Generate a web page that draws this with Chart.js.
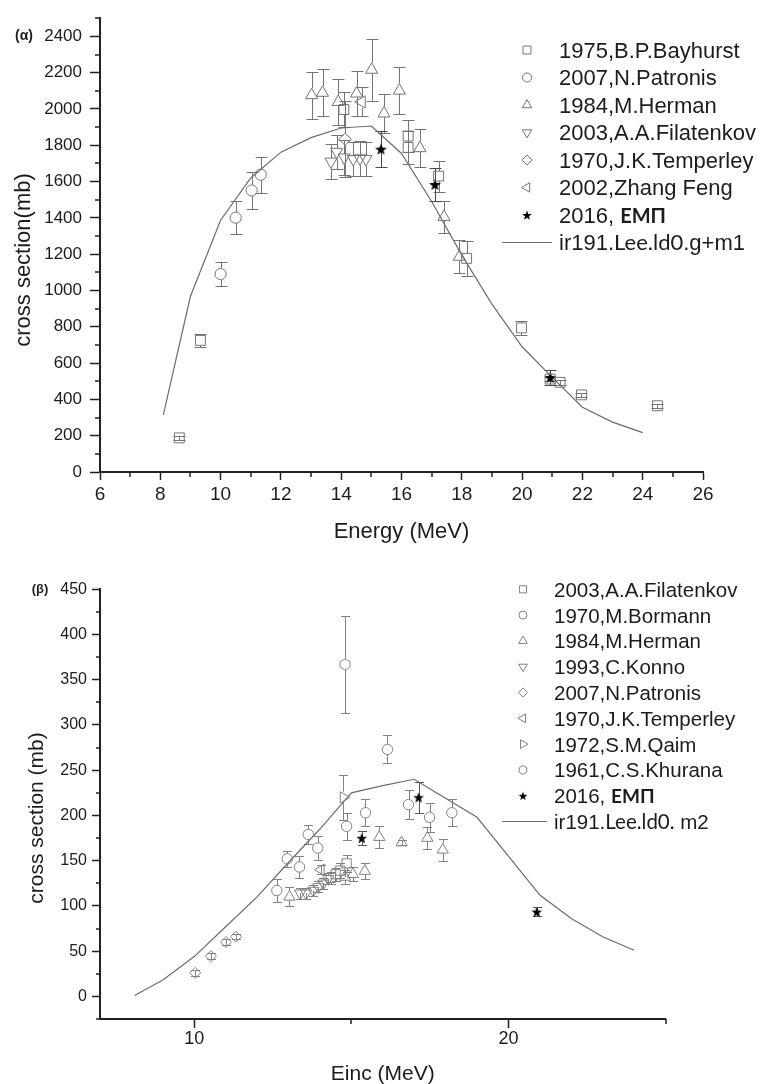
<!DOCTYPE html>
<html>
<head>
<meta charset="utf-8">
<script src="https://cdn.jsdelivr.net/npm/chart.js@4.4.1/dist/chart.umd.min.js"></script>
<style>
  html, body { margin: 0; padding: 0; background: #fff; width: 763px; height: 1084px; overflow: hidden; }
  .panel { position: absolute; left: 0; width: 763px; height: 545px; }
  #wrapA { top: 0; }
  #wrapB { top: 545px; }
</style>
</head>
<body>
<div class="panel" id="wrapA"><canvas id="chartA" width="763" height="545"></canvas></div>
<div class="panel" id="wrapB"><canvas id="chartB" width="763" height="545"></canvas></div>
<script>
// ---------- (α) 191Ir(n,2n) g+m1 cross section ----------
const aBayhurstE   = [8.63, 9.33, 14.09, 16.22, 16.22, 17.23, 18.16, 19.98, 20.93, 21.26, 21.97, 24.49];
const aBayhurstS   = [188, 725, 1997, 1851, 1788, 1630, 1177, 794, 512, 494, 425, 365];
const aBayhurstErr = [12, 37, 95, 90, 90, 85, 95, 40, 12, 15, 12, 12];

const aPatronisE   = [10.0, 10.5, 11.03, 11.33];
const aPatronisS   = [1090, 1401, 1551, 1638];
const aPatronisErr = [68, 90, 100, 100];

const aHermanE     = [13.02, 13.38, 13.9, 14.51, 15.01, 15.42, 15.93, 16.61, 17.41, 17.92];
const aHermanS     = [2076, 2089, 2038, 2085, 2216, 1975, 2101, 1784, 1405, 1186];
const aHermanErr   = [130, 130, 125, 125, 170, 110, 130, 105, 90, 90];

const aFilatenkovE   = [13.66, 13.85, 14.1, 14.4, 14.62, 14.82];
const aFilatenkovS   = [1710, 1764, 1733, 1724, 1728, 1724];
const aFilatenkovErr = [95, 95, 95, 95, 95, 95];

const aTemperleyE   = [14.13];
const aTemperleyS   = [1833];
const aTemperleyErr = [210];

const aZhangE   = [14.68];
const aZhangS   = [2039];
const aZhangErr = [80];

const aEmpE   = [15.32, 17.11, 20.93];
const aEmpS   = [1779, 1584, 521];
const aEmpErr = [100, 90, 40];

const aLeeE = [8.1, 9, 10, 11, 12, 13, 14, 15, 16, 17, 18, 19, 20, 21, 22, 23, 24];
const aLeeS = [315, 968, 1387, 1620, 1762, 1842, 1895, 1906, 1755, 1490, 1195, 925, 690, 521, 357, 275, 217];

const aXTicks = [6, 8, 10, 12, 14, 16, 18, 20, 22, 24, 26];
const aXMinor = [7, 9, 11, 13, 15, 17, 19, 21, 23, 25];
const aYTicks = [0, 200, 400, 600, 800, 1000, 1200, 1400, 1600, 1800, 2000, 2200, 2400];
const aYMinor = [100, 300, 500, 700, 900, 1100, 1300, 1500, 1700, 1900, 2100, 2300, 2500];

// ---------- (β) 191Ir(n,2n) m2 cross section ----------
const bFilatenkovE   = [14.35, 14.5, 14.65, 14.85];
const bFilatenkovS   = [131, 135, 139, 147];
const bFilatenkovErr = [7, 7, 8, 9];

const bBormannE   = [12.63, 12.96, 13.35, 13.63, 13.93, 14.85, 15.45, 16.15, 16.82, 17.49, 18.2];
const bBormannS   = [117, 152, 143, 179, 164, 188, 203, 273, 212, 198, 203];
const bBormannErr = [12.5, 9, 12, 10, 13, 15, 15, 15.5, 16, 16, 15];

const bHermanE   = [13.03, 14.8, 15.05, 15.43, 15.89, 16.6, 17.42, 17.91];
const bHermanS   = [110, 132, 135, 138.5, 176, 170, 175, 162];
const bHermanErr = [10.5, 8, 8, 9, 12, 3, 12, 12];

const bKonnoE   = [13.37, 13.56, 13.79, 13.95, 14.11, 14.27];
const bKonnoS   = [114, 114, 117, 121, 125, 130];
const bKonnoErr = [6, 6, 6, 6, 6, 6];

const bPatronisE   = [10.03, 10.53, 11.01, 11.33];
const bPatronisS   = [26, 44.5, 60, 66];
const bPatronisErr = [3, 3, 3, 3];

const bTemperleyE   = [14.03];
const bTemperleyS   = [140];
const bTemperleyErr = [5];

const bQaimE   = [14.75];
const bQaimS   = [220];
const bQaimErr = [25];

const bKhuranaE   = [14.8];
const bKhuranaS   = [367];
const bKhuranaErr = [54];

const bEmpE   = [15.33, 17.14, 20.9];
const bEmpS   = [175, 220, 93.5];
const bEmpErr = [8, 17, 5];

const bLeeE = [8.1, 9, 10, 11, 12, 13, 14, 15, 16, 17, 18, 19, 20, 21, 22, 23, 24];
const bLeeS = [1, 18, 44, 77, 110, 148, 185, 225, 233, 240, 219, 198, 155, 112, 86, 66, 51];

const bXTicks = [10, 20];
const bXMinor = [15, 25];
const bYTicks = [0, 50, 100, 150, 200, 250, 300, 350, 400, 450];
const bYMinor = [-25, 25, 75, 125, 175, 225, 275, 325, 375, 425];

// ---------- styling ----------
const FONT = "'Liberation Sans', Arial, Helvetica, sans-serif";
const ALT = "Lato, 'Noto Sans', 'Liberation Sans', sans-serif";
const INK = '#1c1c1c';
const AXIS = '#222';
const GREY_A = '#747474';
const GREY_B = '#828282';
const CLEAR = 'rgba(0,0,0,0)';

Chart.defaults.font.family = FONT;

function starCanvas(R, color) {
  const s = Math.ceil(2 * R + 2);
  const c = document.createElement('canvas');
  c.width = c.height = s;
  const g = c.getContext('2d');
  g.fillStyle = color;
  g.beginPath();
  for (let k = 0; k < 10; k++) {
    const ang = -Math.PI / 2 + k * Math.PI / 5;
    const rr = (k % 2) ? R * 0.42 : R;
    g.lineTo(s / 2 + rr * Math.cos(ang), s / 2 + 0.6 + rr * Math.sin(ang));
  }
  g.closePath();
  g.fill();
  return c;
}

function hexCanvas(R, color) {
  const s = Math.ceil(2 * R + 3);
  const c = document.createElement('canvas');
  c.width = c.height = s;
  const g = c.getContext('2d');
  g.strokeStyle = color;
  g.lineWidth = 1;
  g.beginPath();
  for (let k = 0; k < 6; k++) {
    const ang = -Math.PI / 2 + k * Math.PI / 3;
    g.lineTo(s / 2 + R * Math.cos(ang), s / 2 + R * Math.sin(ang));
  }
  g.closePath();
  g.stroke();
  return c;
}

const starA = starCanvas(6.2, '#000');
const starALegend = starCanvas(5, '#000');
const starB = starCanvas(5.6, '#000');
const starBLegend = starCanvas(4.6, '#000');
const hexB = hexCanvas(5.6, GREY_B);
const hexBLegend = hexCanvas(4.4, GREY_B);

function pts(xs, ys) { return xs.map((x, i) => ({ x, y: ys[i] })); }

function markers(label, xs, ys, errs, st) {
  return {
    label,
    data: pts(xs, ys),
    errors: errs,
    errGap: st.gap,
    errorColor: st.errColor || st.color,
    showLine: false,
    pointStyle: st.shape,
    pointRotation: st.rot || 0,
    pointRadius: st.r,
    pointHoverRadius: st.r,
    pointBorderColor: st.color,
    pointBackgroundColor: CLEAR,
    pointBorderWidth: 1,
    legendStyle: st.legendShape || st.shape,
    legendRadius: st.lr,
    legendParts: st.parts
  };
}

function model(label, xs, ys, parts) {
  return {
    label,
    data: pts(xs, ys),
    showLine: true,
    borderColor: '#6c6c6c',
    borderWidth: 1.2,
    pointRadius: 0,
    pointHoverRadius: 0,
    fill: false,
    tension: 0,
    legendParts: parts
  };
}

// ---------- plugins ----------
const errorBars = {
  id: 'errorBars',
  beforeDatasetsDraw(chart, args, o) {
    const { ctx } = chart;
    const xs = chart.scales.x, ys = chart.scales.y;
    ctx.save();
    ctx.lineWidth = 1;
    chart.data.datasets.forEach(ds => {
      if (!ds.errors) return;
      ctx.strokeStyle = ds.errorColor;
      const gUp = ds.errGap[0], gDn = ds.errGap[1];
      ds.data.forEach((p, j) => {
        const e = ds.errors[j];
        if (!e) return;
        const px = Math.round(xs.getPixelForValue(p.x)) + 0.5;
        const pc = ys.getPixelForValue(p.y);
        const pt = Math.round(ys.getPixelForValue(p.y + e)) + 0.5;
        const pb = Math.round(ys.getPixelForValue(p.y - e)) + 0.5;
        ctx.beginPath();
        if (pc - pt > gUp) { ctx.moveTo(px, pt); ctx.lineTo(px, pc - gUp); }
        else { ctx.moveTo(px, pt); ctx.lineTo(px, pc); }
        if (pb - pc > gDn) { ctx.moveTo(px, pc + gDn); ctx.lineTo(px, pb); }
        else { ctx.moveTo(px, pc); ctx.lineTo(px, pb); }
        ctx.moveTo(px - o.cap, pt); ctx.lineTo(px + o.cap, pt);
        ctx.moveTo(px - o.cap, pb); ctx.lineTo(px + o.cap, pb);
        ctx.stroke();
      });
    });
    ctx.restore();
  }
};

const minorTicks = {
  id: 'minorTicks',
  afterDraw(chart, args, o) {
    const { ctx, chartArea: a } = chart;
    const xs = chart.scales.x, ys = chart.scales.y;
    ctx.save();
    ctx.strokeStyle = AXIS;
    ctx.lineWidth = 1.5;
    ctx.beginPath();
    o.x.forEach(v => {
      const p = Math.round(xs.getPixelForValue(v));
      ctx.moveTo(p, a.bottom); ctx.lineTo(p, a.bottom + o.xLen);
    });
    o.y.forEach(v => {
      const p = Math.round(ys.getPixelForValue(v));
      ctx.moveTo(a.left - o.yLen, p); ctx.lineTo(a.left, p);
    });
    ctx.stroke();
    ctx.restore();
  }
};

const panelText = {
  id: 'panelText',
  afterDraw(chart, args, o) {
    const { ctx } = chart;
    // rotated y-axis title
    ctx.save();
    ctx.fillStyle = INK;
    ctx.translate(o.yTitle.x, o.yTitle.y);
    ctx.rotate(-Math.PI / 2);
    ctx.font = o.yTitle.font;
    ctx.textAlign = 'center';
    ctx.textBaseline = 'middle';
    ctx.fillText(o.yTitle.text, 0, 0);
    ctx.restore();

    // panel tag
    ctx.save();
    ctx.fillStyle = INK;
    ctx.font = o.tag.font;
    ctx.textAlign = 'center';
    ctx.textBaseline = 'middle';
    ctx.fillText(o.tag.text, o.tag.x, o.tag.y);
    ctx.restore();

    // legend
    const L = o.legend;
    chart.data.datasets.forEach((ds, i) => {
      const y = L.y0 + i * L.dy;
      ctx.save();
      if (ds.showLine) {
        ctx.strokeStyle = ds.borderColor;
        ctx.lineWidth = ds.borderWidth;
        ctx.beginPath();
        ctx.moveTo(L.lineX0, y); ctx.lineTo(L.lineX1, y);
        ctx.stroke();
      } else {
        ctx.strokeStyle = ds.pointBorderColor;
        ctx.fillStyle = CLEAR;
        ctx.lineWidth = 1;
        Chart.helpers.drawPoint(ctx, {
          pointStyle: ds.legendStyle,
          rotation: ds.pointRotation || 0,
          radius: ds.legendRadius,
          borderWidth: 1
        }, L.markX, y);
      }
      ctx.restore();
      ctx.save();
      ctx.fillStyle = INK;
      ctx.textAlign = 'left';
      ctx.textBaseline = 'alphabetic';
      let x = L.textX;
      const parts = ds.legendParts || [[ds.label, 'n']];
      parts.forEach(([t, f]) => {
        ctx.font = L.fonts[f];
        ctx.fillText(t, x, y + L.capShift);
        x += ctx.measureText(t).width;
      });
      ctx.restore();
    });
  }
};

function axes(cfg) {
  return {
    x: {
      type: 'linear', min: cfg.xMin, max: cfg.xMax,
      afterBuildTicks: s => { s.ticks = cfg.xTicks.map(v => ({ value: v })); },
      afterFit: s => { s.height = cfg.xHeight; },
      grid: { drawOnChartArea: false, drawTicks: true, tickLength: cfg.xTickLen, tickColor: AXIS, tickWidth: 1.5 },
      border: { display: true, color: AXIS, width: 2 },
      ticks: { font: { family: FONT, size: cfg.xFont }, color: INK, padding: cfg.xPad, maxRotation: 0, autoSkip: false, callback: v => String(v) },
      title: { display: true, text: cfg.xTitle, color: INK, font: { family: FONT, size: cfg.xTitleFont }, padding: { top: 0, bottom: cfg.xTitlePad } }
    },
    y: {
      type: 'linear', min: cfg.yMin, max: cfg.yMax,
      afterBuildTicks: s => { s.ticks = cfg.yTicks.map(v => ({ value: v })); },
      afterFit: s => { s.width = 100; },
      grid: { drawOnChartArea: false, drawTicks: true, tickLength: cfg.yTickLen, tickColor: AXIS, tickWidth: 1.5 },
      border: { display: true, color: AXIS, width: 2 },
      ticks: { font: { family: FONT, size: cfg.yFont }, color: INK, padding: cfg.yPad, autoSkip: false, callback: v => String(v) }
    }
  };
}

// ---------- chart (α) ----------
const styleA = {
  square:   { shape: 'rect', r: 7, lr: 5.6, gap: [5, 5], color: GREY_A },
  circle:   { shape: 'circle', r: 5.6, lr: 4.5, gap: [5.6, 5.6], color: GREY_A },
  triUp:    { shape: 'triangle', r: 7, lr: 5.4, gap: [7, 3.5], color: GREY_A },
  triDown:  { shape: 'triangle', rot: 180, r: 7, lr: 5.4, gap: [3.5, 7], color: GREY_A },
  diamond:  { shape: 'rectRot', r: 6.2, lr: 5, gap: [6.2, 6.2], color: GREY_A },
  triLeft:  { shape: 'triangle', rot: 270, r: 7, lr: 5.4, gap: [6, 6], color: GREY_A },
  star:     { shape: starA, legendShape: starALegend, r: 6, lr: 5, gap: [0, 0], color: '#000', errColor: '#4a4a4a',
              parts: [['2016, ', 'n'], ['ΕΜΠ', 'b']] }
};

new Chart(document.getElementById('chartA'), {
  type: 'scatter',
  data: {
    datasets: [
      markers('1975,B.P.Bayhurst', aBayhurstE, aBayhurstS, aBayhurstErr, styleA.square),
      markers('2007,N.Patronis', aPatronisE, aPatronisS, aPatronisErr, styleA.circle),
      markers('1984,M.Herman', aHermanE, aHermanS, aHermanErr, styleA.triUp),
      markers('2003,A.A.Filatenkov', aFilatenkovE, aFilatenkovS, aFilatenkovErr, styleA.triDown),
      markers('1970,J.K.Temperley', aTemperleyE, aTemperleyS, aTemperleyErr, styleA.diamond),
      markers('2002,Zhang Feng', aZhangE, aZhangS, aZhangErr, styleA.triLeft),
      markers('2016, ΕΜΠ', aEmpE, aEmpS, aEmpErr, styleA.star),
      model('ir191.Lee.ld0.g+m1', aLeeE, aLeeS, [['ir191.', 'n'], ['Lee.ld0', 'a'], ['.g+m1', 'n']])
    ]
  },
  options: {
    responsive: false,
    animation: false,
    devicePixelRatio: 1,
    layout: { padding: { top: 14.7, right: 60, bottom: 0, left: 0 } },
    plugins: {
      legend: { display: false },
      tooltip: { enabled: false },
      errorBars: { cap: 6 },
      minorTicks: { x: aXMinor, y: aYMinor, xLen: 5, yLen: 5 },
      panelText: {
        yTitle: { text: 'cross section(mb)', font: `22px ${FONT}`, x: 24, y: 260 },
        tag: { text: '(α)', font: `bold 14px ${FONT}`, x: 24, y: 36 },
        legend: {
          y0: 50, dy: 27.5, markX: 527, textX: 559, lineX0: 502, lineX1: 552, capShift: 7.9,
          fonts: { n: `22px ${FONT}`, b: `bold 20px ${ALT}`, a: `22px ${ALT}` }
        }
      }
    },
    scales: axes({
      xMin: 6, xMax: 26, xTicks: aXTicks, xHeight: 73, xTickLen: 8, xFont: 19, xPad: 3,
      xTitle: 'Energy (MeV)', xTitleFont: 22, xTitlePad: 0,
      yMin: 0, yMax: 2500, yTicks: aYTicks, yTickLen: 10, yFont: 17, yPad: 8
    })
  },
  plugins: [errorBars, minorTicks, panelText]
});

// ---------- chart (β) ----------
const styleB = {
  square:   { shape: 'rect', r: 6.5, lr: 5, gap: [4.6, 4.6], color: GREY_B },
  circle:   { shape: 'circle', r: 5.2, lr: 4, gap: [5.2, 5.2], color: GREY_B },
  triUp:    { shape: 'triangle', r: 6.5, lr: 5, gap: [6.5, 3.3], color: GREY_B },
  triDown:  { shape: 'triangle', rot: 180, r: 6.5, lr: 5, gap: [3.3, 6.5], color: GREY_B },
  diamond:  { shape: 'rectRot', r: 5.5, lr: 4.6, gap: [5.5, 5.5], color: GREY_B },
  triLeft:  { shape: 'triangle', rot: 270, r: 6.5, lr: 5, gap: [5.6, 5.6], color: GREY_B },
  triRight: { shape: 'triangle', rot: 90, r: 6.5, lr: 5, gap: [5.6, 5.6], color: GREY_B },
  hex:      { shape: hexB, legendShape: hexBLegend, r: 5.6, lr: 4.4, gap: [5.6, 5.6], color: GREY_B },
  star:     { shape: starB, legendShape: starBLegend, r: 5.6, lr: 4.6, gap: [0, 0], color: '#000', errColor: '#555',
              parts: [['2016, ', 'n'], ['ΕΜΠ', 'b']] }
};

new Chart(document.getElementById('chartB'), {
  type: 'scatter',
  data: {
    datasets: [
      markers('2003,A.A.Filatenkov', bFilatenkovE, bFilatenkovS, bFilatenkovErr, styleB.square),
      markers('1970,M.Bormann', bBormannE, bBormannS, bBormannErr, styleB.circle),
      markers('1984,M.Herman', bHermanE, bHermanS, bHermanErr, styleB.triUp),
      markers('1993,C.Konno', bKonnoE, bKonnoS, bKonnoErr, styleB.triDown),
      markers('2007,N.Patronis', bPatronisE, bPatronisS, bPatronisErr, styleB.diamond),
      markers('1970,J.K.Temperley', bTemperleyE, bTemperleyS, bTemperleyErr, styleB.triLeft),
      markers('1972,S.M.Qaim', bQaimE, bQaimS, bQaimErr, styleB.triRight),
      markers('1961,C.S.Khurana', bKhuranaE, bKhuranaS, bKhuranaErr, styleB.hex),
      markers('2016, ΕΜΠ', bEmpE, bEmpS, bEmpErr, styleB.star),
      model('ir191.Lee.ld0. m2', bLeeE, bLeeS, [['ir191.', 'n'], ['Lee.ld0.', 'a'], [' m2', 'n']])
    ]
  },
  options: {
    responsive: false,
    animation: false,
    devicePixelRatio: 1,
    layout: { padding: { top: 44.3, right: 97.5, bottom: 0, left: 0 } },
    plugins: {
      legend: { display: false },
      tooltip: { enabled: false },
      errorBars: { cap: 4.5 },
      minorTicks: { x: bXMinor, y: bYMinor, xLen: 5, yLen: 4 },
      panelText: {
        yTitle: { text: 'cross section (mb)', font: `21px ${FONT}`, x: 37, y: 273 },
        tag: { text: '(β)', font: `bold 13px ${FONT}`, x: 40, y: 44 },
        legend: {
          y0: 44.3, dy: 25.8, markX: 523, textX: 554, lineX0: 502, lineX1: 547, capShift: 7.4,
          fonts: { n: `20.5px ${FONT}`, b: `bold 19px ${ALT}`, a: `20.5px ${ALT}` }
        }
      }
    },
    scales: axes({
      xMin: 7, xMax: 25, xTicks: bXTicks, xHeight: 71, xTickLen: 9, xFont: 18, xPad: 0,
      xTitle: 'Einc (MeV)', xTitleFont: 21, xTitlePad: 3.4,
      yMin: -25, yMax: 450, yTicks: bYTicks, yTickLen: 8, yFont: 16, yPad: 5
    })
  },
  plugins: [errorBars, minorTicks, panelText]
});
</script>
</body>
</html>
